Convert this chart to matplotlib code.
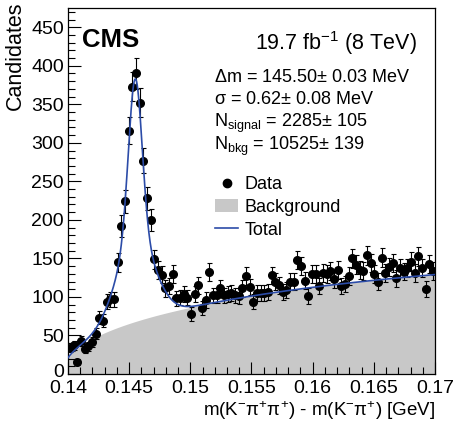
import numpy as np
import matplotlib
matplotlib.use("Agg")
import matplotlib.pyplot as plt
import matplotlib.transforms as mtransforms
from matplotlib.lines import Line2D
from matplotlib.patches import Patch

# histogram binning (GeV)
bin_lo = 0.14
bin_hi = 0.17
n_bins = 100

# candidates per bin
counts = [34, 37, 15, 43, 33, 36, 42, 52, 73, 69,
          94, 97, 97, 145, 192, 224, 316, 373, 390, 352,
          277, 228, 200, 149, 135, 129, 111, 114, 130, 98,
          99, 104, 99, 78, 104, 115, 86, 96, 132, 102,
          102, 112, 102, 104, 105, 102, 101, 111, 127, 113,
          94, 105, 105, 105, 107, 128, 120, 115, 106, 109,
          120, 120, 148, 140, 121, 101, 130, 130, 114, 131,
          130, 134, 123, 135, 114, 117, 127, 150, 142, 135,
          134, 154, 144, 130, 120, 151, 131, 139, 144, 124,
          137, 133, 137, 146, 131, 153, 137, 110, 143, 134]

# fit model: double gaussian signal + threshold background
m_pi = 0.13957
dm_mean = 0.14550
core_sigma = 0.00055
core_amp = 205
tail_sigma = 0.0015
tail_amp = 110
bkg_norm = 740
bkg_power = 0.46
bkg_slope = -4.6

fit_text = [r"$\Delta$m = 145.50$\pm$ 0.03 MeV",
            r"$\sigma$ = 0.62$\pm$ 0.08 MeV",
            r"N$_{\rm signal}$ = 2285$\pm$ 105",
            r"N$_{\rm bkg}$ = 10525$\pm$ 139"]

plt.rcParams['font.family'] = ['Liberation Sans', 'DejaVu Sans']
plt.rcParams['mathtext.fontset'] = 'custom'
plt.rcParams['mathtext.rm'] = 'Liberation Sans'
plt.rcParams['mathtext.it'] = 'Liberation Sans:italic'
plt.rcParams['mathtext.bf'] = 'Liberation Sans:bold'
plt.rcParams['mathtext.default'] = 'regular'


def background(x):
    dx = x - m_pi
    return bkg_norm * dx**bkg_power * np.exp(bkg_slope * dx)


def signal(x):
    d = x - dm_mean
    return (core_amp * np.exp(-0.5 * (d / core_sigma)**2)
            + tail_amp * np.exp(-0.5 * (d / tail_sigma)**2))


counts = np.array(counts, dtype=float)
width = (bin_hi - bin_lo) / n_bins
centers = bin_lo + (np.arange(n_bins) + 0.5) * width
errors = np.sqrt(counts)

fig = plt.figure(figsize=(4.55, 4.23), dpi=100)
ax = fig.add_axes([68/455, 1 - 374/423, (435-68)/455, (374-8)/423])

xs = np.linspace(bin_lo, bin_hi, 600)
gray = '#c8c8c8'
blue = '#2c4ca8'
ax.fill_between(xs, 0, background(xs), color=gray, lw=0, zorder=1)
ax.errorbar(centers, counts, yerr=errors, fmt='o', color='black', ms=5.5,
            elinewidth=0.8, capsize=1.8, capthick=0.8, zorder=3)
ax.plot(xs, background(xs) + signal(xs), color=blue, lw=1.2, zorder=4)

ax.set_xlim(bin_lo, bin_hi)
ax.set_ylim(0, 475)
ax.set_xticks([0.14, 0.145, 0.15, 0.155, 0.16, 0.165, 0.17])
ax.set_xticklabels(['0.14', '0.145', '0.15', '0.155', '0.16', '0.165', '0.17'])
ax.set_xticks(np.arange(0.14, 0.1701, 0.001), minor=True)
ax.set_yticks(np.arange(0, 451, 50))
ax.set_yticks(np.arange(0, 471, 10), minor=True)
ax.tick_params(which='both', direction='in', labelsize=14, top=False, right=False)
ax.tick_params(which='major', length=9, width=0.8)
ax.tick_params(which='minor', length=5, width=0.8)
ax.tick_params(axis='y', pad=3)
ax.tick_params(axis='x', pad=4)
for s in ax.spines.values():
    s.set_linewidth(0.9)

# nudge the "0" label up a little so it clears "0.14"
fig.canvas.draw()
zero_lbl = ax.get_yticklabels()[0]
zero_lbl.set_transform(zero_lbl.get_transform()
                       + mtransforms.ScaledTranslation(0, 4/100, fig.dpi_scale_trans))

fig.text(15/455, 1 - 2/423, 'Candidates', rotation=90, ha='center', va='top', fontsize=15.5)
fig.text(435/455, 1 - 416/423, r'm(K$^{-}\pi^{+}\pi^{+}$) - m(K$^{-}\pi^{+}$) [GeV]',
         ha='right', va='baseline', fontsize=13.5)

ax.text(82, 423 - 47, 'CMS', transform=None, fontsize=18.5, fontweight='bold',
        ha='left', va='baseline')
fig.text(417/455, 1 - 50/423, r'19.7 fb$^{-1}$ (8 TeV)', ha='right', va='baseline', fontsize=15.5)

for i, t in enumerate(fit_text):
    fig.text(214/455, 1 - (77 + 23*i)/423, t, ha='left', va='center', fontsize=13)

handles = [Line2D([], [], marker='o', ls='none', color='black', ms=6),
           Patch(facecolor=gray, edgecolor='none'),
           Line2D([], [], color=blue, lw=1.2)]
ax.legend(handles, ['Data', 'Background', 'Total'], loc='upper left',
          bbox_to_anchor=(215/455, 1 - 176/423), bbox_transform=fig.transFigure,
          frameon=False, fontsize=13, handlelength=1.3, handletextpad=0.35,
          labelspacing=0.32, borderpad=0, borderaxespad=0)

fig.savefig('out.png', dpi=100)
